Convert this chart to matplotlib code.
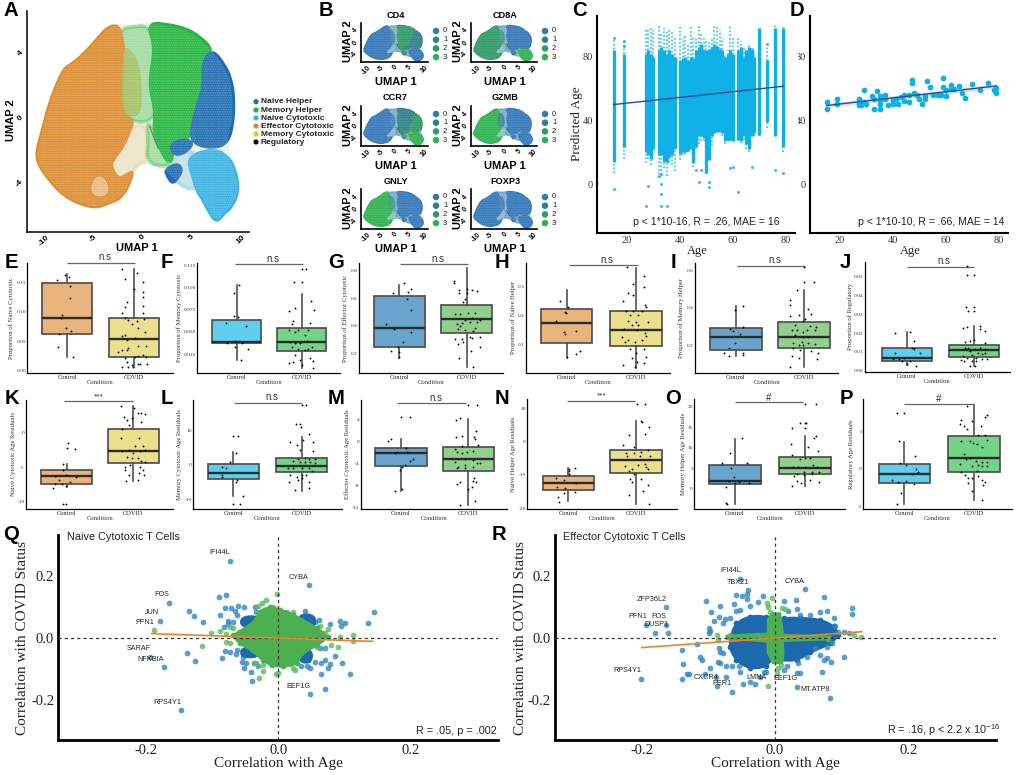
import matplotlib
matplotlib.use("Agg")
import matplotlib.pyplot as plt
from matplotlib.patches import Polygon, Rectangle, PathPatch
from matplotlib.path import Path

W, H = 1020, 775
SANS = "Liberation Sans"
SERIF = "Liberation Serif"

# ---------- UMAP cluster outlines (UMAP 1, UMAP 2) ----------
silhouette_outline = [(-3.65,5.52),(-2.8,5.72),(-.9,5.62),(.6,5.85),(2.45,5.72),(4.5,5.42),(5.85,4.9),(7,4.18),(8.2,3.26),(8.9,2.34),(9.15,1.11),(9.05,-.33),(8.55,-1.46),(8.7,-2.38),(9.4,-3.2),(9.75,-4.43),(9.05,-5.46),(8.2,-5.87),(7.55,-6.38),(6.85,-5.87),(6.2,-5.05),(5.5,-4.43),(4,-4.23),(2.3,-3.2),(2.1,-3),(.4,-2.69),(-.4,-2.79),(-.9,-3.3),(-1.95,-4.84),(-3.6,-5.25),(-4.8,-5.5),(-6.35,-5.25),(-8,-4.74),(-9.4,-3.82),(-10.6,-2.79),(-10.7,-1.97),(-10.2,-.94),(-9.7,.29),(-9.05,1.52),(-8.05,2.95),(-7.35,3.26),(-6.2,3.77),(-4.65,4.8)]
effector_outline = [(-2.8,5.72),(-2.3,5.52),(-2.1,4.8),(-1.9,4.39),(-1.95,3.16),(-2.1,1.52),(-1.8,.29),(-.9,-.23),(-1.4,-.84),(-1.8,-1.56),(-2.8,-2.38),(-3.3,-2.89),(-2.45,-3.82),(-1.4,-3.4),(-.9,-3.3),(-1.95,-4.84),(-3.6,-5.25),(-4.8,-5.5),(-6.35,-5.25),(-8,-4.74),(-9.4,-3.82),(-10.6,-2.79),(-10.7,-1.97),(-10.2,-.94),(-9.7,.29),(-9.05,1.52),(-8.05,2.95),(-7.35,3.26),(-6.2,3.77),(-4.65,4.8),(-3.65,5.52)]
effector_pale_spot = [(-5.3,-4.43),(-4.65,-3.5),(-3.65,-3.82),(-3.45,-4.64),(-4.5,-4.84)]
pale_lower_outline = [(-2.8,-2.38),(-1.8,-1.56),(-1.3,-.64),(.1,-.23),(.6,-1.35),(.4,-2.69),(-.4,-2.79),(-.9,-3.3),(-2.45,-3.82),(-3.3,-2.89)]
pale_center_outline = [(-2.3,5.52),(-.9,5.62),(.6,5.72),(1.45,4.39),(.75,2.13),(1.45,.49),(.75,-.23),(-.9,-.23),(-1.8,.29),(-2.1,1.52),(-1.95,3.16),(-1.9,4.39)]
memory_cyt_outline = [(-1.9,4.39),(-1.1,4.18),(-.25,3.16),(-.1,1.31),(-.25,.29),(-1.1,.08),(-1.8,.29),(-2.1,1.52),(-1.95,3.16)]
memory_helper_outline = [(.6,5.78),(2.45,5.72),(4.5,5.42),(5.85,4.9),(7.0,4.18),(6.2,3.26),(6.35,1.93),(5.5,.49),(5,-1.05),(3.45,-1.35),(2.95,-1.97),(2.8,-2.79),(1.8,-1.76),(1.25,-.64),(1.45,.49),(.75,2.13),(1.45,4.39)]
pale_stem_outline = [(.4,-.23),(1.25,-.64),(1.8,-1.76),(2.8,-2.79),(2.1,-3),(.4,-2.69),(.6,-1.35)]
naive_helper_outline = [(7,4.18),(8.2,3.26),(8.9,2.34),(9.15,1.11),(9.05,-.33),(8.55,-1.46),(7.2,-1.76),(5.5,-1.56),(5,-1.05),(5.5,.49),(6.35,1.93),(6.2,3.26)]
helper_lobe_a = [(2.95,-1.6),(4.15,-1.31),(5.1,-1.46),(4.65,-1.97),(3.45,-2.28),(2.95,-1.97)]
helper_lobe_b = [(2.3,-3.2),(3.45,-2.79),(4,-3.1),(3.65,-3.61),(3.05,-4.02),(2.6,-3.61)]
pale_blue_outline = [(2.8,-2.79),(3.45,-2.28),(5.5,-1.87),(5.15,-3.61),(5.5,-4.43),(4,-4.23),(2.3,-3.2)]
naive_cyt_outline = [(4.5,-2.38),(7.2,-1.87),(8.7,-2.38),(9.4,-3.2),(9.75,-4.43),(9.05,-5.46),(8.2,-5.87),(7.55,-6.38),(6.85,-5.87),(6.2,-5.05),(5.5,-4.43),(5.15,-3.61)]
regulatory_streak = [(.75,-.53),(1.6,-1.87)]

cell_types = ["Naive Helper","Memory Helper","Naive Cytotoxic","Effector Cytotoxic","Memory Cytotoxic","Regulatory"]
genes = ["CD4","CD8A","CCR7","GZMB","GNLY","FOXP3"]
# expression level of each cluster, per gene: effector, memory cyt, memory helper, naive helper, naive cyt
CD4_levels = [0,0,2,1,0]
CD8A_levels = [2,2,0,0,3]
CCR7_levels = [0,0,1,2,3]
GZMB_levels = [3,1,0,0,0]
GNLY_levels = [3,2,0,0,0]
FOXP3_levels = [0,0,0,0,0]
levels_by_gene = [CD4_levels,CD8A_levels,CCR7_levels,GZMB_levels,GNLY_levels,FOXP3_levels]
level_names = ["0","1","2","3"]

# ---------- C ----------
C_age = [15,19,27,28,29,30,32,33,34,35,36,37,38,40,41,42,43,44,45,46,47,48,49,50,51,52,53,54,55,56,57,58,59,60,62,63,64,65,66,67,68,70,73,76,79]
C_core_hi = [84,82,82,84,82,80,84,86,84,82,84,82,80,78,79,80,78,80,79,84,86,88,84,84,85,86,88,87,85,84,80,82,84,82,84,86,80,84,86,85,80,98,78,98,98]
C_core_lo = [14,23,20,18,16,22,18,18,14,14,17,18,22,19,20,20,21,22,13,23,30,30,29,7,15,30,32,33,33,32,27,28,28,27,28,27,30,25,22,30,32,31,39,30,23]
C_tail_hi = [92,90,98,98,99,97,100,95,98,97,98,96,92,100,92,93,88,100,92,92,100,95,92,90,90,92,100,99,97,92,82,84,100,92,92,90,87,85,89,87,84,99,87,100,99]
C_tail_lo = [7,16,13,16,12,18,4,8,10,5,13,12,8,15,18,19,20,22,11,22,25,27,27,6,15,24,32,34,33,30,25,27,27,27,27,26,28,22,20,30,30,30,35,30,20]
C_out_age = [15,28,33,33,33,35,27,47,51,51,62,59,60,67,76,79,32,33,46,48,73,15,19,19]
C_out_pred = [-3,-1,0,-6,-14,-14,-14,1,1,-2,-5,10,11,11,9,7,5,6,9,9,88,92,90,87]
C_fit_age = [15,79]
C_fit_pred = [50,61.5]

# ---------- D ----------
D_age = [15,15,19,19,27,27,27,28,29,29,30,32,33,33,34,35,35,35,35,37,37,38,40,40,41,42,43,44,44,46,46,47,47,48,49,50,51,52,52,53,54,55,57,58,59,59,60,60,62,62,63,65,66,67,70,73,76,78,79,79]
D_pred = [51.7,47.5,53.8,50.6,53.3,51,49.6,49.6,59.4,51.7,50.2,55.2,53.3,46.9,58.6,46.9,55.2,50.2,52.7,55.9,53.8,50,52.7,50.6,53.3,50.2,54.8,55.9,52.1,51.3,55.9,65.3,63.6,57.5,56.3,53.8,50.6,55.2,53.3,65.1,61.1,55.9,55.9,56.3,66.7,61.1,55.2,59,62.1,60,60,61.5,57.5,54.4,63.2,59.4,63.6,59,60.7,57.3]
D_fit_age = [15,79]
D_fit_pred = [49.4,61.7]

# ---------- E-P box statistics [low whisker, q1, median, q3, high whisker] ----------
E_control = [.023,.063,.089,.148,.164]; E_covid = [.006,.024,.053,.09,.172]
E_ticks = [0,.05,.10,.15]; E_ticklabels = ["0.00","0.05","0.10","0.15"]; E_ylim = (-.0034,.182)
E_ctrl_pts = [(-.04,.162),(.02,.158),(-.15,.154),(.04,.143),(.04,.124),(-.08,.094),(-.09,.089),(-.02,.073),(.05,.067),(-.12,.062),(-.14,.04),(.08,.023)]
E_cov_pts = [(-.18,.172),(.05,.166),(-.13,.155),(.13,.151),(0,.138),(.14,.133),(.14,.125),(-.11,.117),(-.13,.108),(.14,.11),(-.18,.098),(.14,.097),(-.135,.089),(-.085,.086),(.04,.085),(.15,.088),(-.035,.079),(.065,.072),(-.135,.06),(-.185,.059),(.015,.055),(-.11,.052),(.165,.066),(.065,.041),(.175,.041),(-.085,.038),(-.185,.035),(-.11,.035),(-.235,.032),(.065,.025),(.14,.027),(.175,.023),(-.135,.021),(.015,.023),(-.11,.015),(.09,.012),(.19,.012),(-.185,.006),(-.085,.007),(-.035,.01),(-.01,.007),(.065,.011)]
F_control = [.018,.038,.039,.0635,.103]; F_covid = [.0095,.028,.039,.054,.093]
F_ticks = [.025,.05,.075,.10,.125]; F_ticklabels = ["0.025","0.050","0.075","0.100","0.125"]; F_ylim = (.0039,.1276)
F_ctrl_pts = [(.03,.103),(-.04,.094),(-.04,.068),(.02,.067),(-.16,.06),(.15,.057),(-.15,.038),(-.03,.04),(.08,.038),(-.03,.033),(.18,.031),(.06,.018)]
F_cov_pts = [(0,.121),(.07,.121),(-.12,.106),(0,.106),(.14,.085),(-.19,.074),(-.1,.077),(.19,.075),(-.14,.062),(-.15,.059),(.13,.06),(-.19,.052),(-.05,.052),(.1,.052),(-.1,.05),(.05,.047),(-.18,.039),(-.1,.038),(-.03,.037),(.08,.04),(.16,.033),(-.15,.033),(-.05,.031),(.05,.03),(.1,.031),(-.1,.024),(-.19,.015),(-.03,.018),(.13,.02),(.18,.017),(-.13,.016),(0,.013),(.18,.0095)]
G_control = [.17,.245,.383,.617,.70]; G_covid = [.10,.345,.453,.55,.82]
G_ticks = [.2,.4,.6,.8]; G_ticklabels = ["0.2","0.4","0.6","0.8"]; G_ylim = (.06,.854)
G_ctrl_pts = [(.07,.708),(-.09,.64),(.13,.643),(.18,.665),(.12,.595),(.18,.515),(-.2,.415),(-.08,.38),(.18,.357),(.05,.28),(-.02,.244),(-.13,.217),(-.01,.212),(0,.176)]
G_cov_pts = [(-.19,.728),(-.19,.708),(-.115,.66),(-.11,.636),(0,.665),(.075,.66),(.15,.655),(0,.636),(-.05,.575),(-.025,.592),(-.175,.486),(-.1,.486),(.025,.49),(.125,.495),(-.025,.442),(.075,.454),(.2,.442),(-.075,.423),(.05,.43),(.15,.43),(-.125,.377),(-.025,.37),(.125,.382),(-.15,.413),(-.1,.399),(.1,.362),(-.175,.302),(-.075,.302),(.05,.316),(.2,.316),(-.125,.268),(-.05,.285),(.075,.31),(.2,.244),(.06,.22),(-.11,.164),(.09,.098)]
H_control = [.055,.107,.175,.222,.288]; H_covid = [.022,.095,.152,.215,.365]
H_ticks = [.1,.2,.3]; H_ticklabels = ["0.1","0.2","0.3"]; H_ylim = (.005,.382)
H_ctrl_pts = [(-.1,.252),(.02,.231),(-.02,.214),(-.01,.211),(-.15,.183),(-.04,.146),(-.02,.137),(.13,.149),(.19,.079),(.13,.068),(0,.057)]
H_cov_pts = [(-.13,.366),(.11,.338),(-.05,.309),(.11,.3),(-.11,.279),(-.05,.271),(-.19,.252),(.13,.237),(.15,.231),(-.14,.218),(-.04,.218),(.08,.218),(-.08,.203),(.03,.203),(-.11,.182),(0,.18),(.18,.18),(-.06,.169),(.03,.169),(-.18,.154),(.01,.151),(.13,.14),(-.2,.126),(-.11,.117),(-.01,.111),(.08,.117),(.15,.131),(-.16,.111),(.11,.085),(-.09,.085),(0,.071),(.15,.06),(-.06,.054),(.01,.043),(-.19,.031),(.11,.037),(-.01,.023)]
I_control = [.145,.177,.244,.295,.41]; I_covid = [.085,.187,.244,.323,.495]
I_ticks = [.2,.4,.6]; I_ticklabels = ["0.2","0.4","0.6"]; I_ylim = (.057,.636)
I_ctrl_pts = [(.1,.41),(-.01,.389),(-.09,.286),(-.04,.278),(.06,.262),(.11,.3),(-.01,.212),(-.11,.186),(-.17,.163),(-.1,.145),(.11,.163),(.1,.151)]
I_cov_pts = [(0,.614),(0,.539),(.15,.539),(-.1,.495),(-.2,.442),(-.2,.415),(.06,.392),(.11,.368),(-.2,.357),(-.08,.362),(-.02,.332),(.01,.339),(-.13,.309),(.09,.304),(.18,.3),(-.18,.283),(-.11,.283),(-.02,.274),(.05,.283),(.16,.283),(-.13,.256),(-.01,.244),(.06,.244),(-.03,.221),(-.16,.212),(-.08,.204),(-.01,.204),(.06,.212),(.16,.209),(-.16,.186),(-.06,.177),(.11,.174),(.2,.159),(-.18,.145),(-.08,.133),(.19,.128),(-.2,.085)]
J_control = [.003,.0053,.0068,.012,.0205]; J_covid = [.0023,.0074,.0112,.0137,.0237]
J_ticks = [0,.01,.02,.03,.04,.05]; J_ticklabels = ["0.00","0.01","0.02","0.03","0.04","0.05"]; J_ylim = (-.0005,.0579)
J_ctrl_pts = [(-.17,.0198),(.05,.0205),(.11,.0156),(.08,.0123),(.11,.0114),(-.17,.0093),(.2,.0093),(-.04,.0067),(-.12,.0061),(-.2,.0061),(.05,.0053),(-.07,.0053),(0,.0035),(.14,.0026)]
J_cov_pts = [(-.11,.0556),(-.11,.0509),(0,.0509),(-.12,.0339),(0,.0339),(-.1,.0316),(0,.0316),(.08,.0237),(-.11,.0232),(-.17,.0225),(.16,.0211),(.08,.0219),(-.07,.0158),(-.14,.0153),(0,.0163),(.16,.0149),(-.14,.0118),(-.09,.0119),(.01,.0114),(.08,.0123),(.16,.0114),(-.17,.0079),(-.06,.0105),(.06,.0096),(.16,.0093),(.11,.0088),(-.04,.0082),(-.11,.007),(.03,.007),(-.16,.0053),(.11,.0061),(.18,.0061),(-.04,.0053),(.03,.0049),(-.19,.0058),(-.06,.0026),(.01,.0023)]
K_control = [-7.9,-7.4,-6.3,-5.4,-4.6]; K_covid = [-7,-4.4,-2.7,.6,3.9]
K_ticks = [-10,-5,0]; K_ticklabels = ["-10","-5","0"]; K_ylim = (-11.1,4.76)
K_ctrl_pts = [(.02,-1.55),(0,-2.2),(.12,-2.3),(-.06,-4.6),(-.05,-5.4),(-.01,-6.2),(.14,-6.4),(-.17,-6.3),(-.12,-6.9),(-.17,-7.5),(-.07,-7.4),(.05,-7.1),(-.01,-7.8),(-.21,-8),(-.06,-10.4),(-.01,-10.4)]
K_cov_pts = [(-.18,3.9),(.01,3.6),(.07,2.9),(.12,2.9),(.18,2.7),(-.14,2.3),(-.1,1.8),(-.02,2.1),(-.17,.6),(.11,1.6),(-.07,1.1),(-.18,-.8),(.09,-.7),(.02,-2),(.15,-1.9),(-.17,-2.6),(-.07,-2.5),(0,-3),(.1,-2.6),(.17,-2.5),(-.1,-3.5),(-.02,-3.7),(.07,-3.7),(.12,-4.1),(.17,-4.3),(-.12,-5),(-.05,-4.7),(.1,-5),(.15,-5.4),(-.12,-5.4),(-.07,-6.2),(.09,-5.9),(.16,-6.2),(-.11,-7),(.07,-6.9)]
L_control = [-8.9,-3.9,-2.3,.3,3.8]; L_covid = [-7.4,-2.1,-.2,2.1,7.9]
L_ticks = [-10,0,10]; L_ticklabels = ["-10","0","10"]; L_ylim = (-12.6,18.6)
L_ctrl_pts = [(0,8.4),(.07,8.4),(.04,3.3),(-.05,.95),(-.16,-.5),(-.11,-.8),(-.16,-2.9),(-.16,-3.5),(.06,-4.3),(.04,-4.8),(.14,-8.9),(-.01,-11.2),(.1,-11.2)]
L_cov_pts = [(0,17.1),(.06,17.1),(-.08,11.6),(-.01,10.8),(-.03,11.6),(.11,9),(-.17,6.7),(-.07,5.7),(.02,7.1),(.17,6.5),(-.02,4.3),(.16,4),(.05,2.1),(-.05,1.7),(.1,1.7),(.2,1.7),(-.12,1.1),(-.02,.95),(.05,.76),(.12,.76),(.2,.5),(-.2,-.76),(-.12,-.76),(0,-.95),(.1,-.76),(.15,-1.7),(-.17,-2.9),(-.07,-3.3),(0,-3),(.07,-2.9),(0,-3.6),(-.18,-4.8),(.1,-5),(-.1,-7.1),(.1,-6.7),(-.05,-4.3)]
M_control = [-9,-4.4,-2,-1.1,.5]; M_covid = [-11.4,-5.3,-3.1,-1,4.2]
M_ticks = [-12,-8,-4,0,4]; M_ticklabels = ["-12","-8","-4","0","4"]; M_ylim = (-12.2,7.6)
M_ctrl_pts = [(0,4.5),(.14,4.5),(-.19,.2),(-.15,.5),(-.06,-1.8),(-.09,-2),(.07,-1.2),(.09,-1.8),(.18,-3.2),(.14,-3.5),(.06,-4.2),(.02,-4.5),(-.02,-5.2),(.02,-8.5),(-.09,-9)]
M_cov_pts = [(0,6.7),(.13,6.7),(-.13,4.4),(-.18,3.9),(.12,1.9),(-.1,1.1),(-.18,.8),(.08,.9),(.1,.5),(.15,-.5),(-.1,-.8),(-.2,-1.3),(-.17,-1.8),(-.1,-2.1),(-.02,-1.8),(.07,-1.7),(-.15,-3.2),(-.05,-3.2),(.07,-3.3),(.17,-3.8),(.13,-3.8),(-.2,-3.6),(-.05,-4.2),(-.15,-4.5),(.07,-4.5),(-.05,-4.7),(-.17,-4.7),(.08,-6.5),(.11,-7.3),(.07,-7.2),(.05,-8.2),(0,-8.6),(-.12,-7.3),(-.17,-7.7),(.1,-10.8),(-.13,-11.4)]
N_control = [-18,-14.6,-12.5,-10.2,-7.9]; N_covid = [-18.8,-9.5,-5.5,-2.5,6.2]
N_ticks = [-20,-10,0,10]; N_ticklabels = ["-20","-10","0","10"]; N_ylim = (-20.3,12.9)
N_ctrl_pts = [(.1,-7.9),(.01,-8.3),(.01,-8.9),(.01,-9.6),(-.18,-10.9),(-.07,-11.6),(.12,-12.6),(-.17,-13.6),(-.05,-13.9),(.1,-15.3),(-.07,-15.6),(-.15,-16.8),(-.14,-18.1)]
N_cov_pts = [(.01,11.4),(.14,11.4),(.07,6.2),(.09,6),(.19,4.5),(.13,2.3),(-.11,2),(-.19,-1),(-.03,-1.5),(-.15,-3.3),(-.13,-4.2),(-.03,-3.5),(.07,-3),(.06,-4.2),(.21,-4.3),(.18,-2.5),(-.16,-7.4),(-.06,-8.1),(-.11,-8.9),(.13,-6.7),(.15,-7.6),(.18,-8.1),(.03,-7),(-.03,-9.8),(-.09,-11.1),(-.06,-12.3),(.08,-11.1),(.17,-13.1),(.1,-14.9),(-.11,-16.1),(.19,-18.8)]
O_control = [-3.7,1.2,1.95,5.7,12.1]; O_covid = [.65,3.5,5.1,7.7,12.8]
O_ticks = [0,5,10,15,20]; O_ticklabels = ["0","5","10","15","20"]; O_ylim = (-4.96,21.9)
O_ctrl_pts = [(.1,12.3),(-.07,8.6),(-.18,6.3),(.17,6.2),(-.05,5.1),(-.01,2.9),(-.08,1.9),(.06,1.7),(.2,1.5),(0,1.3),(-.13,.5),(-.13,-3.6),(-.12,-3.7)]
O_cov_pts = [(0,20.7),(.16,20.7),(-.07,16.1),(0,16.1),(.02,16.1),(-.18,14.7),(0,14.7),(.16,12.9),(.13,12.4),(-.2,11),(.05,10.2),(.19,9.2),(-.18,8.2),(0,7.6),(-.07,7.2),(.07,7.6),(-.17,5.2),(-.1,5.4),(0,5.4),(.11,5.9),(.17,5.2),(-.11,3.7),(-.02,4),(.1,4),(.2,4),(-.15,3.2),(-.01,3.3),(.1,3.5),(.07,2.1),(-.05,1.5),(.2,1.7),(-.12,1.9),(-.19,.7)]
P_control = [-4.7,-1.9,-.7,.65,3.6]; P_covid = [-4.2,-.4,1.5,4.4,8.6]
P_ticks = [-5,0,5]; P_ticklabels = ["-5","0","5"]; P_ylim = (-5.4,9.4)
P_ctrl_pts = [(-.1,7.5),(0,7.5),(-.08,3.7),(.15,1.75),(-.06,.76),(.03,.54),(.17,0),(.19,-.36),(.11,-.7),(-.17,-1.5),(-.09,-1.7),(.03,-1.6),(.14,-2.1),(-.05,-3.2),(-.1,-4.7)]
P_cov_pts = [(-.1,8.5),(.18,7.3),(.16,7),(-.19,6.6),(-.2,6.1),(-.15,5.8),(-.1,5.3),(-.03,6.4),(.1,5.8),(.06,4.6),(.16,4.5),(-.18,3.8),(.18,3.9),(-.06,3.8),(-.01,3.5),(.04,3.3),(.12,2.9),(-.14,2),(-.12,1.35),(-.06,1.43),(.03,1),(.11,.9),(.19,.9),(.19,.45),(-.2,.63),(-.03,.45),(.06,.54),(.12,.4),(-.18,-.45),(-.13,-.8),(-.08,-1.17),(.04,-.27),(.06,-1),(.11,-1.5),(.16,-1.8),(-.08,-1.9),(.13,-2.2),(-.03,-1.26),(-.03,-3),(.12,-4.2)]
box_ylabels = ["Proportion of Naive Cytotoxic","Proportion of Memory Cytotoxic","Proportion of Effector Cytotoxic","Proportion of Naive Helper","Proportion of Memory Helper","Proportion of Regulatory","Naive Cytotoxic Age Residuals","Memory Cytotoxic Age Residuals","Effector Cytotoxic Age Residuals","Naive Helper Age Residuals","Memory Helper Age Residuals","Regulatory Age Residuals"]
box_marks = ["n.s","n.s","n.s","n.s","n.s","n.s","***","n.s","n.s","***","#","#"]
conditions = ["Control","COVID"]

# ---------- Q ----------
Q_blue_x = [-.073,.046,-.165,-.089,-.078,-.179,-.134,-.127,-.113,.144,.136,.093,.101,.095,.062,.078,.04,.045,.035,.048,.055,-.06,-.051,-.081,-.071,-.035,-.033,-.065,-.062,-.088,-.075,-.068,-.082,-.075,-.049,-.04,-.035,-.048,-.038,-.193,-.173,-.138,-.125,-.085,-.08,-.072,-.064,-.062,-.054,-.049,-.053,-.043,-.033,-.037,-.031,-.052,-.041,-.04,.035,.043,.038,.045,.035,.043,.048,.055,.064,.07,.064,.076,.079,.086,.097,.109,.048,.07,-.146,.063,.07,.045]
Q_blue_y = [.247,.172,.113,.133,.138,.056,.088,.072,.053,.084,.049,.054,.047,.037,.058,.045,.086,.069,.066,.037,.053,.103,.1,.096,.098,.099,.085,.087,.075,.074,.055,.053,.034,.045,.058,.063,.058,.047,.047,-.06,-.095,-.047,-.074,-.063,-.041,-.044,-.053,-.039,-.076,-.082,-.06,-.044,-.039,-.082,-.092,-.098,-.111,-.139,-.044,-.044,-.06,-.071,-.092,-.092,-.098,-.076,-.082,-.071,-.116,-.098,-.085,-.057,-.08,-.116,-.18,-.163,-.233,-.033,-.033,-.055]
Q_clump_a = [(-.055,.037),(-.055,.066),(-.03,.069),(-.03,.037)]
Q_clump_b = [(.033,.037),(.033,.075),(.055,.072),(.055,.037)]
Q_clump_c = [(.033,-.077),(.05,-.077),(.05,-.039),(.033,-.039)]
Q_clump_d = [(-.055,-.06),(-.03,-.06),(-.03,-.033),(-.055,-.033)]
Q_green_x = [-.188,-.115,-.102,-.088,-.073,-.068,-.078,-.078,-.073,-.058,-.002,-.019,-.025,-.03,-.02,-.008,.014,.022,.113,.113,.093,.091,.08,.065,.075,.063,.07,.058,-.004,0,-.023,-.029,.023,.025,.013,-.023,-.013,-.033]
Q_green_y = [.025,-.027,.015,.024,.034,.031,.012,-.012,-.017,-.006,.142,.123,.112,.103,.088,.099,.084,.085,.008,-.01,.002,-.028,-.023,.004,.028,.037,.015,-.028,-.116,-.112,-.105,-.13,-.098,-.103,-.082,-.087,-.082,-.082]
Q_green_cloud = [(-.068,.01),(-.048,.031),(-.033,.058),(-.028,.085),(-.013,.099),(.003,.09),(.023,.074),(.035,.058),(.058,.031),(.075,.004),(.058,-.023),(.035,-.049),(.028,-.082),(.008,-.092),(-.01,-.087),(-.023,-.071),(-.038,-.039),(-.058,-.017)]
Q_fit_x = [-.191,.143]
Q_fit_y = [.014,-.011]
Q_gene_names = ["IFI44L","CYBA","FOS","JUN","PFN1","SARAF","NFKBIA","EEF1G","RPS4Y1"]
Q_gene_x = [-.088,.031,-.176,-.19,-.201,-.21,-.193,.03,-.167]
Q_gene_y = [.275,.196,.139,.081,.051,-.035,-.069,-.155,-.208]

# ---------- R ----------
R_blue_x = [-.052,-.04,-.042,-.05,-.058,-.042,-.103,-.062,-.038,-.053,-.058,-.096,-.083,-.091,-.084,-.099,-.099,-.098,-.075,-.068,-.078,-.163,-.163,-.18,-.16,-.193,-.201,-.14,-.138,-.132,-.129,-.139,-.117,-.113,-.109,-.098,-.105,-.083,-.084,-.078,-.085,-.082,-.074,-.073,-.064,-.054,-.053,-.065,-.087,-.088,-.048,-.038,-.03,-.023,-.016,.033,.083,.045,.074,.031,.014,-.018,-.025,.116,.115,.111,.103,.07,.084,.078,.068,.073,.035,.038,.033,.013,-.013,.018,.053,.068,.078,.088,.09,.095,.103,.078,.085,.048,.06,.033,.02,.038]
R_blue_y = [.191,.155,.141,.135,.139,.125,.119,.11,.103,.09,.088,.084,.103,.056,.066,.031,.015,.024,.06,.063,.047,.099,.041,.016,.016,.042,-.132,-.04,-.085,-.115,-.116,-.133,-.02,-.061,-.072,-.098,-.116,-.044,-.033,-.049,-.076,-.08,-.092,-.125,-.09,-.092,-.109,-.173,-.154,-.125,-.148,-.141,-.148,-.125,-.109,-.157,-.192,.157,.132,.122,.12,.135,.117,.096,.076,.015,-.061,-.111,-.076,-.066,-.055,-.071,-.082,-.112,-.114,-.103,-.109,-.092,.074,.085,.088,.063,.037,.02,.02,-.028,-.015,-.06,-.033,.092,.088,.074]
R_blue_cloud = [(-.065,.01),(-.058,.047),(-.038,.069),(-.013,.069),(0,.037),(.013,.063),(.038,.063),(.068,.058),(.088,.037),(.095,.01),(.083,-.017),(.053,-.044),(.033,-.071),(.008,-.071),(0,-.049),(-.013,-.092),(-.038,-.098),(-.058,-.071),(-.068,-.028)]
R_green_x = [-.005,-.012,-.01,-.007,.01,.015,-.087,-.068,.119,.129,-.011,.009,.003,.005,.08,-.085]
R_green_y = [.128,.112,.099,.085,.096,.092,.008,.01,.008,.004,-.154,-.086,-.114,-.098,-.003,-.006]
R_green_cloud = [(-.011,.015),(-.011,.058),(-.005,.08),(.008,.08),(.011,.037),(.012,.011),(.083,.005),(.083,-.005),(.012,-.01),(.013,-.049),(.011,-.082),(-.003,-.082),(-.011,-.049),(-.012,-.012),(-.073,-.003),(-.073,.008)]
R_fit_x = [-.2,.13]
R_fit_y = [-.031,.02]
R_gene_names = ["IFI44L","TBX21","CYBA","ZFP36L2","PFN1","FOS","DUSP1","RPS4Y1","CXCR4","PER1","LMNA","EEF1G","MT.ATP8"]
R_gene_x = [-.067,-.056,.03,-.185,-.206,-.174,-.178,-.222,-.104,-.079,-.027,.016,.06]
R_gene_y = [.217,.18,.182,.125,.068,.068,.042,-.106,-.129,-.147,-.129,-.132,-.167]

# ---------- styles ----------
ORANGE, GREEN, BLUE, LBLUE, OLIVE = "#DC8C2E", "#24B53E", "#1F6DB1", "#38B2E3", "#A4BC57"
LEVEL_COLORS = ["#3378B8", "#2F8088", "#2E9A66", "#2CB24E"]
LEG_COLORS = [BLUE, GREEN, LBLUE, ORANGE, "#D9C63A", "#111111"]
BOX_ORANGE, BOX_YELLOW = "#E8B47C", "#EBDF8B"
BOX_LBLUE, BOX_GREEN = "#5FCDEE", "#73D488"
BOX_BLUE, BOX_LGREEN = "#68A4CE", "#92CF8F"

fig = plt.figure(figsize=(W / 100, H / 100), dpi=100, facecolor="white")


def axes_px(l, t, r, b):
    ax = fig.add_axes([l / W, 1 - b / H, (r - l) / W, (b - t) / H])
    ax.patch.set_visible(False)
    ax.spines["top"].set_visible(False)
    ax.spines["right"].set_visible(False)
    ax.tick_params(length=0)
    return ax


def ftext(x, y, s, **kw):
    kw.setdefault("ha", "center")
    kw.setdefault("va", "center")
    kw.setdefault("family", SANS)
    fig.text(x / W, 1 - y / H, s, **kw)


def smooth(outline):
    """Closed path through the edge midpoints, with the outline's corners as curve controls."""
    n = len(outline)
    mids = [((outline[i][0] + outline[(i + 1) % n][0]) / 2, (outline[i][1] + outline[(i + 1) % n][1]) / 2) for i in range(n)]
    verts, codes = [mids[-1]], [Path.MOVETO]
    for i in range(n):
        verts += [outline[i], mids[i]]
        codes += [Path.CURVE3, Path.CURVE3]
    return Path(verts, codes)


def blob(ax, outline, color, alpha=1.0, lw=0.8, zorder=1):
    ax.add_patch(PathPatch(smooth(outline), facecolor=color, alpha=alpha, edgecolor=color, lw=lw, zorder=zorder))


def draw_umap(ax, base, eff, memc, memh, nh, nc, pale_mix, spot=None, speckle=0.0, grow=1.0):
    blob(ax, silhouette_outline, base, lw=grow)
    blob(ax, pale_center_outline, memh, alpha=pale_mix[0], lw=grow)
    blob(ax, pale_lower_outline, eff, alpha=pale_mix[1], lw=grow)
    blob(ax, pale_stem_outline, memh, alpha=pale_mix[2], lw=grow)
    blob(ax, pale_blue_outline, nc, alpha=pale_mix[3], lw=grow)
    blob(ax, effector_outline, eff, lw=grow)
    if spot:
        blob(ax, effector_pale_spot, spot, alpha=0.7)
    blob(ax, memory_cyt_outline, memc, alpha=0.8)
    blob(ax, memory_helper_outline, memh, lw=grow * 1.6)
    blob(ax, naive_helper_outline, nh, lw=grow * 1.6)
    blob(ax, helper_lobe_a, nh, lw=grow)
    blob(ax, helper_lobe_b, nh, lw=grow)
    blob(ax, naive_cyt_outline, nc, lw=grow)
    xs, ys = zip(*regulatory_streak)
    ax.plot(xs, ys, color="#2E5F3C", lw=0.8, alpha=0.8, zorder=2)
    if speckle:
        ax.add_patch(PathPatch(smooth(silhouette_outline), facecolor="none", edgecolor=(1, 1, 1, speckle),
                               hatch=".......", lw=0, zorder=3))


# ---------- A ----------
ax = axes_px(27, 11, 249, 232)
ax.set_xlim(-11.7, 10.8)
ax.set_ylim(-7.0, 6.6)
draw_umap(ax, "#EEF3DF", ORANGE, OLIVE, GREEN, BLUE, LBLUE, (0.38, 0.14, 0.38, 0.25), spot="#F0CFA0", speckle=0.28, grow=2.6)
for s in ("left", "bottom"):
    ax.spines[s].set_linewidth(1.1)
ax.set_xticks([-10, -5, 0, 5, 10], ["-10", "-5", "0", "5", "10"], rotation=45, family=SANS, fontsize=6, fontweight="bold")
ax.set_yticks([-4, 0, 4], ["-4", "0", "4"], rotation=45, family=SANS, fontsize=6, fontweight="bold", va="center")
ax.tick_params(axis="x", pad=1)
ax.tick_params(axis="y", pad=2)
ftext(137, 248, "UMAP 1", fontsize=8, fontweight="bold")
ftext(11, 120, "UMAP 2", fontsize=8, fontweight="bold", rotation=90)
leg_y = [101.7, 110, 118, 126, 134, 142]
leg = fig.add_axes([0, 0, 1, 1])
leg.set_xlim(0, W)
leg.set_ylim(H, 0)
leg.axis("off")
leg.patch.set_visible(False)
leg.scatter([256] * 6, leg_y, s=14, c=LEG_COLORS, linewidths=0)
for name, y in zip(cell_types, leg_y):
    ftext(261, y, name, ha="left", fontsize=6, fontweight="bold", color="#222222")

# ---------- B ----------
mini_boxes = [(361, 23, 428, 62), (471, 23, 537, 62), (361, 106, 428, 146), (471, 106, 537, 146), (361, 189, 428, 229), (471, 189, 537, 229)]
for gene, lv, (l, t, r, b) in zip(genes, levels_by_gene, mini_boxes):
    ax = axes_px(l, t, r, b)
    ax.set_xlim(-11.7, 11.3)
    ax.set_ylim(-6.3, 6.7)
    c = [LEVEL_COLORS[i] for i in lv]
    draw_umap(ax, "#A9C7E4", c[0], c[1], c[2], c[3], c[4], (0.35, 0.25, 0.35, 0.35), speckle=0.2, grow=1.0)
    for s in ("left", "bottom"):
        ax.spines[s].set_linewidth(1.2)
    ax.set_xticks([-10, -5, 0, 5, 10], ["-10", "-5", "0", "5", "10"], rotation=45, family=SANS, fontsize=5, fontweight="bold")
    ax.set_yticks([-4, 0, 4], ["-4", "0", "4"], rotation=45, family=SANS, fontsize=5, fontweight="bold", va="center")
    ax.tick_params(pad=1.5)
    mid = (l + r) / 2
    ftext(mid + 1, t - 8, gene, fontsize=6.6, fontweight="bold")
    ftext(mid + 1, b + 20, "UMAP 1", fontsize=8, fontweight="bold")
    ftext(l - 13, (t + b) / 2 - 1, "UMAP 2", fontsize=8, fontweight="bold", rotation=90)
    ly = [t + 8 + 8.7 * i for i in range(4)]
    leg.scatter([r + 8] * 4, ly, s=22, c=LEVEL_COLORS, linewidths=0)
    for nm, y in zip(level_names, ly):
        ftext(r + 15, y, nm, ha="left", fontsize=5.5, color="#222222")

# ---------- C / D ----------
PT = "#0FB0E6"
axC = axes_px(597, 16, 795, 233)
axC.set_xlim(8.7, 83.4)
axC.set_ylim(-30.8, 105.7)
axC.vlines(C_age, C_tail_lo, C_tail_hi, color=PT, lw=1.5, linestyles=(0, (0.8, 1.0)), alpha=0.7)
axC.vlines(C_age, C_core_lo, C_core_hi, color=PT, lw=2.35)
axC.scatter(C_out_age, C_out_pred, s=5, color=PT, alpha=0.8, linewidths=0)
axC.plot(C_fit_age, C_fit_pred, color="#22509B", lw=1.0)
axD = axes_px(810, 16, 1008, 233)
axD.set_xlim(8.7, 83.4)
axD.set_ylim(-30.8, 105.7)
axD.scatter(D_age, D_pred, s=17, color=PT, linewidths=0, zorder=2)
axD.fill_between(D_fit_age, [p - 1.4 for p in D_fit_pred], [p + 1.4 for p in D_fit_pred], color="#BBBBBB", alpha=0.45, lw=0, zorder=1)
axD.plot(D_fit_age, D_fit_pred, color="#22509B", lw=1.0, zorder=3)
for ax, stat, sx in ((axC, "p < 1*10-16, R = .26, MAE = 16", 780), (axD, "p < 1*10-10, R = .66, MAE = 14", 1005)):
    for s in ("left", "bottom"):
        ax.spines[s].set_linewidth(1.5)
    ax.set_xticks([20, 40, 60, 80], ["20", "40", "60", "80"], family=SERIF, fontsize=7.5, color="#333333")
    ax.set_yticks([0, 40, 80], ["0", "40", "80"], family=SERIF, fontsize=7.5, color="#333333")
    ax.tick_params(axis="x", pad=2)
    ax.tick_params(axis="y", pad=3)
    ftext(sx, 222, stat, ha="right", fontsize=7.6, color="#222222")
ftext(697, 251, "Age", family=SERIF, fontsize=9, color="#222222")
ftext(910, 251, "Age", family=SERIF, fontsize=9, color="#222222")
ftext(577, 124, "Predicted Age", family=SERIF, fontsize=9.5, rotation=90, color="#222222")
fig.add_artist(Rectangle((790 / W, 1 - 130 / H), 8.3 / W, 80 / H, transform=fig.transFigure, facecolor="white", edgecolor="none", zorder=20))

# ---------- E-P ----------
# origin x, origin y, crop left, right, top, bottom, centre 0, centre 1, half width, y-label x, bracket x0, x1, y, mark x, y
box_layout = [
    (0, 250, 82, 520, 40, 368, 202, 402, 75, 35, 200, 405, 38, 315, 22),
    (0, 250, 592, 1020, 40, 368, 710, 905, 73, 537, 706, 910, 42, 820, 28),
    (0, 250, 1078, 1510, 40, 368, 1198, 1400, 77, 1037, 1200, 1405, 42, 1315, 28),
    (510, 250, 47, 480, 38, 368, 170, 378, 77, 10, 178, 383, 45, 292, 30),
    (510, 250, 555, 985, 40, 368, 678, 882, 77, 515, 680, 885, 47, 795, 30),
    (510, 250, 1065, 1500, 35, 365, 1190, 1393, 75, 1022, 1190, 1393, 50, 1303, 33),
    (0, 385, 78, 520, 45, 372, 200, 400, 76, 40, 192, 398, 48, 295, 35),
    (0, 385, 580, 1025, 45, 372, 700, 905, 77, 540, 702, 905, 53, 815, 37),
    (0, 385, 1082, 1520, 45, 372, 1203, 1405, 77, 1042, 1192, 1397, 55, 1307, 40),
    (510, 385, 52, 500, 42, 372, 175, 378, 77, 12, 172, 375, 47, 275, 33),
    (510, 385, 553, 1005, 42, 372, 675, 885, 77, 520, 675, 878, 52, 775, 38),
    (510, 385, 1060, 1505, 42, 372, 1183, 1392, 77, 1025, 1183, 1392, 57, 1285, 42),
]
box_stats = [(E_control, E_covid, E_ctrl_pts, E_cov_pts, E_ticks, E_ticklabels, E_ylim, BOX_ORANGE, BOX_YELLOW),
             (F_control, F_covid, F_ctrl_pts, F_cov_pts, F_ticks, F_ticklabels, F_ylim, BOX_LBLUE, BOX_GREEN),
             (G_control, G_covid, G_ctrl_pts, G_cov_pts, G_ticks, G_ticklabels, G_ylim, BOX_BLUE, BOX_LGREEN),
             (H_control, H_covid, H_ctrl_pts, H_cov_pts, H_ticks, H_ticklabels, H_ylim, BOX_ORANGE, BOX_YELLOW),
             (I_control, I_covid, I_ctrl_pts, I_cov_pts, I_ticks, I_ticklabels, I_ylim, BOX_BLUE, BOX_LGREEN),
             (J_control, J_covid, J_ctrl_pts, J_cov_pts, J_ticks, J_ticklabels, J_ylim, BOX_LBLUE, BOX_GREEN),
             (K_control, K_covid, K_ctrl_pts, K_cov_pts, K_ticks, K_ticklabels, K_ylim, BOX_ORANGE, BOX_YELLOW),
             (L_control, L_covid, L_ctrl_pts, L_cov_pts, L_ticks, L_ticklabels, L_ylim, BOX_LBLUE, BOX_GREEN),
             (M_control, M_covid, M_ctrl_pts, M_cov_pts, M_ticks, M_ticklabels, M_ylim, BOX_BLUE, BOX_LGREEN),
             (N_control, N_covid, N_ctrl_pts, N_cov_pts, N_ticks, N_ticklabels, N_ylim, BOX_ORANGE, BOX_YELLOW),
             (O_control, O_covid, O_ctrl_pts, O_cov_pts, O_ticks, O_ticklabels, O_ylim, BOX_BLUE, BOX_LGREEN),
             (P_control, P_covid, P_ctrl_pts, P_cov_pts, P_ticks, P_ticklabels, P_ylim, BOX_LBLUE, BOX_GREEN)]
EDGE = "#505050"
for lay, st, ylab, mark in zip(box_layout, box_stats, box_ylabels, box_marks):
    ox, oy, zl, zr, zt, zb, c0, c1, hw, zyl, bx0, bx1, by, mx, my = lay
    ctrl, cov, cp, vp, ticks, tlabs, ylim, col0, col1 = st
    ax = axes_px(ox + zl / 3, oy + zt / 3, ox + zr / 3, oy + zb / 3)
    sp = c1 - c0
    ax.set_xlim((zl - c0) / sp, (zr - c0) / sp)
    ax.set_ylim(*ylim)
    stats = [dict(whislo=s[0], q1=s[1], med=s[2], q3=s[3], whishi=s[4], fliers=[]) for s in (ctrl, cov)]
    bp = ax.bxp(stats, positions=[0, 1], widths=2 * hw / sp, patch_artist=True, showcaps=False, showfliers=False,
                boxprops=dict(edgecolor=EDGE, linewidth=1.25), medianprops=dict(color="#2A2A2A", linewidth=1.7),
                whiskerprops=dict(color=EDGE, linewidth=1.2), manage_ticks=False)
    for patch, col in zip(bp["boxes"], (col0, col1)):
        patch.set_facecolor(col)
    for pts, cx in ((cp, 0), (vp, 1)):
        ax.scatter([cx + p[0] for p in pts], [p[1] for p in pts], s=1.8, color="black", linewidths=0, zorder=5, clip_on=False)
    for s in ("left", "bottom"):
        ax.spines[s].set_linewidth(0.9)
    ax.set_xticks([0, 1], conditions, family=SERIF, fontsize=4.6, color="#222222")
    ax.set_yticks(ticks, tlabs, family=SERIF, fontsize=3.9, color="#333333")
    ax.tick_params(axis="x", pad=1.5)
    ax.tick_params(axis="y", pad=1)
    ftext(ox + zyl / 3, oy + (zt + zb) / 6, ylab, family=SERIF, fontsize=4.8, rotation=90, color="#333333")
    ftext(ox + (zl + zr) / 6, oy + zb / 3 + 9.5, "Condition", family=SERIF, fontsize=4.8, color="#333333")
    leg.plot([ox + bx0 / 3, ox + bx1 / 3], [oy + by / 3] * 2, color="#666666", lw=0.9, solid_capstyle="butt")
    ftext(ox + mx / 3, oy + my / 3, mark, fontsize=7 if mark != "***" else 6, color="#333333")

# ---------- Q / R ----------
BL, GR, FIT = "#2F86C2", "#5DB85B", "#E9842A"
DARKB, DARKG = "#1C69AE", "#4CAF50"
axQ = axes_px(58.3, 535, 498, 740)
axQ.set_xlim(-.332, .332)
axQ.set_ylim(-.329, .332)
axQ.scatter(Q_blue_x, Q_blue_y, s=17, color=BL, alpha=0.8, linewidths=0, zorder=2)
for clump in (Q_clump_a, Q_clump_b, Q_clump_c, Q_clump_d):
    blob(axQ, clump, DARKB, lw=2.5, zorder=2)
axQ.scatter(Q_green_x, Q_green_y, s=17, color=GR, alpha=0.8, linewidths=0, zorder=3)
blob(axQ, Q_green_cloud, DARKG, lw=2.5, zorder=3)
axQ.scatter([p[0] for p in Q_green_cloud], [p[1] for p in Q_green_cloud], s=17, color=DARKG, linewidths=0, zorder=3)
axQ.plot(Q_fit_x, Q_fit_y, color=FIT, lw=1.2, zorder=6)
axR = axes_px(555, 535, 995.7, 740)
axR.set_xlim(-.33, .331)
axR.set_ylim(-.329, .332)
blob(axR, R_blue_cloud, DARKB, lw=2.5, zorder=2)
axR.scatter([p[0] for p in R_blue_cloud], [p[1] for p in R_blue_cloud], s=17, color=DARKB, linewidths=0, zorder=2)
axR.scatter(R_blue_x, R_blue_y, s=17, color=BL, alpha=0.8, linewidths=0, zorder=2)
axR.add_patch(Polygon(R_green_cloud, closed=True, facecolor=DARKG, edgecolor=DARKG, lw=1.2, zorder=3, joinstyle="round"))
axR.scatter(R_green_x, R_green_y, s=17, color=GR, alpha=0.8, linewidths=0, zorder=3)
axR.plot(R_fit_x, R_fit_y, color=FIT, lw=1.2, zorder=6)
for ax, names, gx, gy in ((axQ, Q_gene_names, Q_gene_x, Q_gene_y), (axR, R_gene_names, R_gene_x, R_gene_y)):
    ax.axhline(0, color="#333333", lw=0.9, ls=(0, (2.5, 2.5)), zorder=5)
    ax.axvline(0, color="#333333", lw=0.9, ls=(0, (2.5, 2.5)), zorder=5)
    for s in ("left", "bottom"):
        ax.spines[s].set_linewidth(2.0)
    ax.set_xticks([-.2, 0, .2], ["-0.2", "0.0", "0.2"], family=SERIF, fontsize=10.5, color="#222222")
    ax.set_yticks([-.2, 0, .2], ["-0.2", "0.0", "0.2"], family=SERIF, fontsize=10.5, color="#222222")
    ax.tick_params(pad=3)
    for n, x, y in zip(names, gx, gy):
        ax.text(x, y, n, family=SANS, fontsize=5.2, ha="center", va="center", color="#222222", zorder=7)
ftext(66.7, 537, "Naive Cytotoxic T Cells", ha="left", fontsize=7.8, color="#222222")
ftext(563, 537, "Effector Cytotoxic T Cells", ha="left", fontsize=7.8, color="#222222")
ftext(497, 731, "R = .05, p = .002", ha="right", fontsize=7.8, color="#222222")
ftext(1000.7, 730, r"R = .16, p < 2.2 x 10$^{\mathregular{-16}}$", ha="right", fontsize=7.8, color="#222222")
for x in (278, 775):
    ftext(x, 763, "Correlation with Age", family=SERIF, fontsize=11, color="#222222")
for x in (23, 521):
    ftext(x, 638, "Correlation with COVID Status", family=SERIF, fontsize=11, rotation=90, color="#222222")

# ---------- panel letters ----------
letters = ["A","B","C","D","E","F","G","H","I","J","K","L","M","N","O","P","Q","R"]
letter_x = [11,326,579,797,11,167,336,502,673,845,12,167,336,502,673,846,11,499]
letter_y = [11,11,11,11,263,263,263,263,262,263,398,398,398,398,398,398,534,534]
for s, x, y in zip(letters, letter_x, letter_y):
    ftext(x, y, s, fontsize=14.6, fontweight="bold", color="black", zorder=30)

fig.savefig("out.png", dpi=100)
